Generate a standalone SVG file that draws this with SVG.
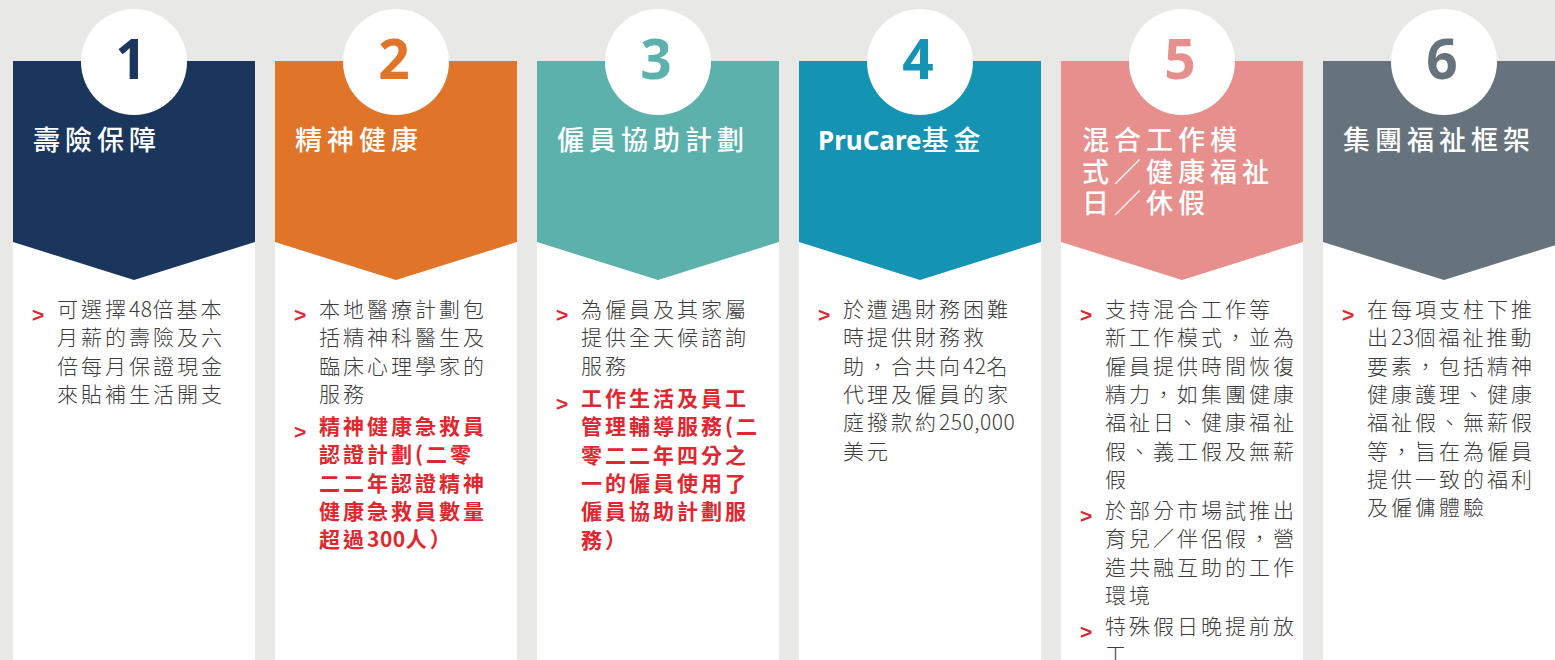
<svg xmlns="http://www.w3.org/2000/svg" width="1555" height="660" viewBox="0 0 1555 660">
<style>
.num{font-family:"Noto Sans","Open Sans",sans-serif;font-weight:700;font-size:55px;text-anchor:middle}
.title{font-family:"Noto Sans CJK TC","Noto Sans CJK SC",sans-serif;font-size:27px;font-weight:500;fill:#ffffff;letter-spacing:5px}
.lat{font-family:"Noto Sans","Open Sans",sans-serif;font-weight:700;letter-spacing:0}
.txt{font-family:"Noto Sans CJK TC","Noto Sans CJK SC",sans-serif;font-size:21px;font-weight:300;fill:#3c3c3c;letter-spacing:3px}
.red{fill:#e0262f;font-weight:700}
.d{letter-spacing:0.5px}
.blt{font-family:"Liberation Sans",Arial,sans-serif;font-weight:700;font-size:21px;fill:#e0262f}
.body{fill:#ffffff}
.circ{fill:#ffffff}
</style>
<rect x="0" y="0" width="1555" height="660" fill="#e8e8e6"/>

<g id="col1">
<rect class="body" x="13" y="242" width="242" height="418"/>
<polygon points="13,61 255,61 255,242 134,280 13,242" fill="#1b365d"/>
<circle class="circ" cx="134" cy="62" r="53"/>
<text class="num" x="131" y="79" fill="#1b365d">1</text>
<text class="title" x="33" y="150">壽險保障</text>
<text class="blt" x="32" y="322">&gt;</text>
<text class="txt"><tspan x="57" y="317">可選擇<tspan class="d">48</tspan>倍基本</tspan><tspan x="57" y="345.3">月薪的壽險及六</tspan><tspan x="57" y="373.6">倍每月保證現金</tspan><tspan x="57" y="401.9">來貼補生活開支</tspan></text>
</g>

<g id="col2">
<rect class="body" x="275" y="242" width="242" height="418"/>
<polygon points="275,61 517,61 517,242 396,280 275,242" fill="#e07429"/>
<circle class="circ" cx="396" cy="62" r="53"/>
<text class="num" x="394" y="79" fill="#e07429">2</text>
<text class="title" x="295" y="150">精神健康</text>
<text class="blt" x="294" y="322">&gt;</text>
<text class="txt"><tspan x="319" y="317">本地醫療計劃包</tspan><tspan x="319" y="345.3">括精神科醫生及</tspan><tspan x="319" y="373.6">臨床心理學家的</tspan><tspan x="319" y="401.9">服務</tspan></text>
<text class="blt" x="294" y="439">&gt;</text>
<text class="txt red"><tspan x="319" y="434">精神健康急救員</tspan><tspan x="319" y="462.3">認證計劃(二零</tspan><tspan x="319" y="490.6">二二年認證精神</tspan><tspan x="319" y="518.9">健康急救員數量</tspan><tspan x="319" y="547.2">超過<tspan class="d">300</tspan>人）</tspan></text>
</g>

<g id="col3">
<rect class="body" x="537" y="242" width="242" height="418"/>
<polygon points="537,61 779,61 779,242 658,280 537,242" fill="#5cb1ac"/>
<circle class="circ" cx="658" cy="62" r="53"/>
<text class="num" x="656" y="79" fill="#5cb1ac">3</text>
<text class="title" x="557" y="150">僱員協助計劃</text>
<text class="blt" x="556" y="322">&gt;</text>
<text class="txt"><tspan x="581" y="317">為僱員及其家屬</tspan><tspan x="581" y="345.3">提供全天候諮詢</tspan><tspan x="581" y="373.6">服務</tspan></text>
<text class="blt" x="556" y="411">&gt;</text>
<text class="txt red"><tspan x="581" y="406">工作生活及員工</tspan><tspan x="581" y="434.3">管理輔導服務(二</tspan><tspan x="581" y="462.6">零二二年四分之</tspan><tspan x="581" y="490.9">一的僱員使用了</tspan><tspan x="581" y="519.2">僱員協助計劃服</tspan><tspan x="581" y="547.5">務）</tspan></text>
</g>

<g id="col4">
<rect class="body" x="799" y="242" width="242" height="418"/>
<polygon points="799,61 1041,61 1041,242 920,280 799,242" fill="#1593b3"/>
<circle class="circ" cx="920" cy="62" r="53"/>
<text class="num" x="918" y="79" fill="#1593b3">4</text>
<text class="title" x="818" y="150"><tspan class="lat" font-size="26">PruCare</tspan>基金</text>
<text class="blt" x="818" y="322">&gt;</text>
<text class="txt"><tspan x="843" y="317">於遭遇財務困難</tspan><tspan x="843" y="345.3">時提供財務救</tspan><tspan x="843" y="373.6">助，合共向<tspan class="d">42</tspan>名</tspan><tspan x="843" y="401.9">代理及僱員的家</tspan><tspan x="843" y="430.2">庭撥款約<tspan class="d">250,000</tspan></tspan><tspan x="843" y="458.5">美元</tspan></text>
</g>

<g id="col5">
<rect class="body" x="1061" y="242" width="242" height="418"/>
<polygon points="1061,61 1303,61 1303,242 1182,280 1061,242" fill="#e68f8d"/>
<circle class="circ" cx="1182" cy="62" r="53"/>
<text class="num" x="1180" y="79" fill="#e68f8d">5</text>
<text class="title" x="1082" y="150">混合工作模</text>
<text class="title" x="1082" y="181.5">式／健康福祉</text>
<text class="title" x="1082" y="213">日／休假</text>
<text class="blt" x="1080" y="322">&gt;</text>
<text class="txt"><tspan x="1105" y="317">支持混合工作等</tspan><tspan x="1105" y="345.3">新工作模式，並為</tspan><tspan x="1105" y="373.6">僱員提供時間恢復</tspan><tspan x="1105" y="401.9">精力，如集團健康</tspan><tspan x="1105" y="430.2">福祉日、健康福祉</tspan><tspan x="1105" y="458.5">假、義工假及無薪</tspan><tspan x="1105" y="486.8">假</tspan></text>
<text class="blt" x="1080" y="523">&gt;</text>
<text class="txt"><tspan x="1105" y="518">於部分市場試推出</tspan><tspan x="1105" y="546.3">育兒／伴侶假，營</tspan><tspan x="1105" y="574.6">造共融互助的工作</tspan><tspan x="1105" y="602.9">環境</tspan></text>
<text class="blt" x="1080" y="639">&gt;</text>
<text class="txt"><tspan x="1105" y="634">特殊假日晚提前放</tspan><tspan x="1105" y="662.3">工</tspan></text>
</g>

<g id="col6">
<rect class="body" x="1323" y="242" width="242" height="418"/>
<polygon points="1323,61 1565,61 1565,242 1444,280 1323,242" fill="#66737c"/>
<circle class="circ" cx="1444" cy="62" r="53"/>
<text class="num" x="1442" y="79" fill="#66737c">6</text>
<text class="title" x="1343" y="150">集團福祉框架</text>
<text class="blt" x="1342" y="322">&gt;</text>
<text class="txt"><tspan x="1367" y="317">在每項支柱下推</tspan><tspan x="1367" y="345.3">出<tspan class="d">23</tspan>個福祉推動</tspan><tspan x="1367" y="373.6">要素，包括精神</tspan><tspan x="1367" y="401.9">健康護理、健康</tspan><tspan x="1367" y="430.2">福祉假、無薪假</tspan><tspan x="1367" y="458.5">等，旨在為僱員</tspan><tspan x="1367" y="486.8">提供一致的福利</tspan><tspan x="1367" y="515.1">及僱傭體驗</tspan></text>
</g>
</svg>
